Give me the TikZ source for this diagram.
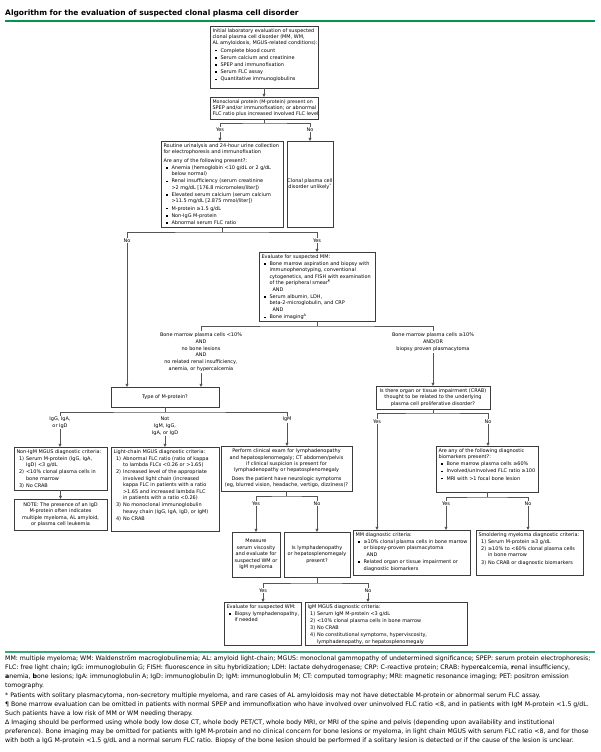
\documentclass[tikz,border=0pt]{standalone}
\usepackage{fontspec}
\setmainfont{DejaVu Sans}
\usetikzlibrary{arrows.meta,calc}
\definecolor{upgreen}{RGB}{0,150,80}
\definecolor{lngray}{RGB}{85,85,85}
\definecolor{bxgray}{RGB}{60,60,60}
\newcommand\xbu{\hspace*{2.6pt}\makebox[5.4pt][l]{\raisebox{0.8pt}{\rule{1.5pt}{1.5pt}}}}
\newcommand\xind{\hspace*{8pt}}
\newcommand\xnm[1]{\hspace*{2.6pt}\makebox[7pt][l]{#1}}
\newcommand\xnind{\hspace*{9.6pt}}
\newcommand\xbox[5]{\node[bx, minimum width={#4-#2}, minimum height={#5-#3}, anchor=north west] (#1) at (#2,#3) {};}
\newcommand\xtxt[2]{\node[txt, anchor=north west] (#1t) at ([shift={(2.5,2.4)}]#1.north west) {#2};}
\newcommand\xctxt[2]{\node[txt, align=center] (#1t) at (#1.center) {#2};}
\begin{document}
\begin{tikzpicture}[x=1pt,y=-1pt,
  bx/.style={draw=bxgray, line width=0.6pt, inner sep=0pt, outer sep=0pt},
  txt/.style={inner sep=0pt, outer sep=0pt, align=left, font=\fontsize{4.95}{6.4}\selectfont, text=black},
  lab/.style={inner sep=1pt, outer sep=0pt, align=center, font=\fontsize{4.95}{6.7}\selectfont, text=black},
  ln/.style={draw=lngray, line width=0.55pt},
  arr/.style={ln, -{Triangle[length=3.2pt,width=3pt]}}]
\useasboundingbox (0,0) rectangle (600,752);
\fill[white] (0,0) rectangle (600,752);

% title
\node[anchor=west, inner sep=0pt, font=\fontsize{7.5}{9}\selectfont\bfseries] (title) at (5,13) {Algorithm for the evaluation of suspected clonal plasma cell disorder};
\draw[upgreen, line width=2pt] (5,21) -- (595,21);

% boxes
\xbox{init}{210}{26}{318}{88}
\xtxt{init}{Initial laboratory evaluation of suspected\\clonal plasma cell disorder (MM, WM,\\AL amyloidosis, MGUS-related conditions):\\[0.8pt]\xbu Complete blood count\\[0.8pt]\xbu Serum calcium and creatinine\\[0.8pt]\xbu SPEP and immunofixation\\[0.8pt]\xbu Serum FLC assay\\[0.8pt]\xbu Quantitative immunoglobulins}

\xbox{mprot}{210}{97}{318}{119}
\xtxt{mprot}{\fontsize{4.75}{6.4}\selectfont Monoclonal protein (M-protein) present on\\SPEP and/or immunofixation; or abnormal\\FLC ratio plus increased involved FLC level}

\xbox{routine}{161}{141}{283}{227}
\xtxt{routine}{Routine urinalysis and 24-hour urine collection\\for electrophoresis and immunofixation\\[2.2pt]Are any of the following present?:\\[0.8pt]\xbu Anemia (hemoglobin <10 g/dL or 2 g/dL\\\xind below normal)\\[0.8pt]\xbu Renal insufficiency (serum creatinine\\\xind >2 mg/dL [176.8 micromoles/liter])\\[0.8pt]\xbu Elevated serum calcium (serum calcium\\\xind >11.5 mg/dL [2.875 mmol/liter])\\[0.8pt]\xbu M-protein ≥1.5 g/dL\\[0.8pt]\xbu Non-IgG M-protein\\[0.8pt]\xbu Abnormal serum FLC ratio}

\xbox{unlikely}{287}{141}{333}{227}
\xctxt{unlikely}{Clonal plasma cell\\disorder unlikely\textsuperscript{*}}

\xbox{evalmm}{259}{252}{375}{321}
\xtxt{evalmm}{Evaluate for suspected MM:\\[0.8pt]\xbu Bone marrow aspiration and biopsy with\\\xind immunophenotyping, conventional\\\xind cytogenetics, and FISH with examination\\\xind of the peripheral smear\textsuperscript{¶}\\[0.6pt]\xind\hspace*{3pt}AND\\[0.6pt]\xbu Serum albumin, LDH,\\\xind beta-2-microglobulin, and CRP\\[0.6pt]\xind\hspace*{3pt}AND\\[0.6pt]\xbu Bone imaging\textsuperscript{Δ}}

\xbox{typ}{111}{387}{219}{407}
\xctxt{typ}{Type of M-protein?}

\xbox{nonigm}{14}{447}{107}{490}
\xtxt{nonigm}{Non-IgM MGUS diagnostic criteria:\\[0.8pt]\xnm{1)}Serum M-protein (IgG, IgA,\\\xnind IgD) <3 g/dL\\[0.8pt]\xnm{2)}<10\% clonal plasma cells in\\\xnind bone marrow\\[0.8pt]\xnm{3)}No CRAB}

\xbox{note}{14}{499}{107}{530}
\xctxt{note}{NOTE: The presence of an IgD\\M-protein often indicates\\multiple myeloma, AL amyloid,\\or plasma cell leukemia}

\xbox{light}{111}{447}{219}{531}
\xtxt{light}{Light-chain MGUS diagnostic criteria:\\[0.8pt]\xnm{1)}Abnormal FLC ratio (ratio of kappa\\\xnind to lambda FLCs <0.26 or >1.65)\\[0.8pt]\xnm{2)}Increased level of the appropriate\\\xnind involved light chain (increased\\\xnind kappa FLC in patients with a ratio\\\xnind >1.65 and increased lambda FLC\\\xnind in patients with a ratio <0.26)\\[0.8pt]\xnm{3)}No monoclonal immunoglobulin\\\xnind heavy chain (IgG, IgA, IgD, or IgM)\\[0.8pt]\xnm{4)}No CRAB}

\xbox{igm}{221}{446}{352}{491}
\xctxt{igm}{Perform clinical exam for lymphadenopathy\\and hepatosplenomegaly; CT abdomen/pelvis\\if clinical suspicion is present for\\lymphadenopathy or hepatosplenomegaly\\[2.2pt]Does the patient have neurologic symptoms\\(eg, blurred vision, headache, vertigo, dizziness)?}

\xbox{measure}{232}{532}{280}{577}
\xctxt{measure}{Measure\\serum viscosity\\and evaluate for\\suspected WM or\\IgM myeloma}

\xbox{islymph}{284}{532}{350}{577}
\xctxt{islymph}{Is lymphadenopathy\\or hepatosplenomegaly\\present?}

\xbox{evalwm}{224}{602}{301}{645}
\xtxt{evalwm}{Evaluate for suspected WM:\\[0.8pt]\xbu Biopsy lymphadenopathy,\\\xind if needed}

\xbox{igmmgus}{305}{602}{467}{645}
\xtxt{igmmgus}{IgM MGUS diagnostic criteria:\\[0.8pt]\xnm{1)}Serum IgM M-protein <3 g/dL\\[0.8pt]\xnm{2)}<10\% clonal plasma cells in bone marrow\\[0.8pt]\xnm{3)}No CRAB\\[0.8pt]\xnm{4)}No constitutional symptoms, hyperviscosity,\\\xnind lymphadenopathy, or hepatosplenomegaly}

\xbox{crab}{376}{386}{490}{409}
\xctxt{crab}{Is there organ or tissue impairment (CRAB)\\thought to be related to the underlying\\plasma cell proliferative disorder?}

\xbox{biom}{436}{446}{538}{492}
\xtxt{biom}{Are any of the following diagnostic\\biomarkers present?:\\[0.8pt]\xbu Bone marrow plasma cells ≥60\%\\[0.8pt]\xbu Involved/uninvolved FLC ratio ≥100\\[0.8pt]\xbu MRI with >1 focal bone lesion}

\xbox{mmdiag}{353}{530}{470}{575}
\xtxt{mmdiag}{MM diagnostic criteria:\\[0.8pt]\xbu ≥10\% clonal plasma cells in bone marrow\\\xind or biopsy-proven plasmacytoma\\[0.6pt]\xind\hspace*{3pt}AND\\[0.6pt]\xbu Related organ or tissue impairment or\\\xind diagnostic biomarkers}

\xbox{smold}{476}{530}{583}{575}
\xtxt{smold}{Smoldering myeloma diagnostic criteria:\\[0.8pt]\xnm{1)}Serum M-protein ≥3 g/dL\\[0.8pt]\xnm{2)}≥10\% to <60\% clonal plasma cells\\\xnind in bone marrow\\[0.8pt]\xnm{3)}No CRAB or diagnostic biomarkers}

% connectors
\draw[arr] (init.south) -- (mprot.north);

% branch 1
\coordinate (b1) at ($(mprot.south)+(0,4)$);
\node[lab] (y1) at (220,129.5) {Yes};
\node[lab] (n1) at (310,129.5) {No};
\draw[ln] (mprot.south) -- (b1);
\draw[ln] (y1.north) |- (b1) -| (n1.north);
\draw[arr] (y1.south) -- (y1.south |- routine.north);
\draw[arr] (n1.south) -- (n1.south |- unlikely.north);

% branch 2
\coordinate (b2) at ($(routine.south)+(0,5)$);
\node[lab] (n2) at (127,240.5) {No};
\node[lab] (y2) at (317,240.5) {Yes};
\draw[ln] (routine.south) -- (b2);
\draw[ln] (n2.north) |- (b2) -| (y2.north);
\draw[arr] (n2.south) -- (n2.south |- typ.north);
\draw[arr] (y2.south) -- (y2.south |- evalmm.north);

% branch 3
\coordinate (b3) at ($(evalmm.south)+(0,5)$);
\node[lab, anchor=north, inner sep=0pt] (l3) at (201,333) {Bone marrow plasma cells <10\%\\AND\\no bone lesions\\AND\\no related renal insufficiency,\\anemia, or hypercalcemia};
\node[lab, anchor=north, inner sep=0pt] (r3) at (433,333) {Bone marrow plasma cells ≥10\%\\AND/OR\\biopsy proven plasmacytoma};
\draw[ln] (evalmm.south) -- (b3);
\draw[ln] ([yshift=2pt]l3.north) |- (b3) -| ([yshift=2pt]r3.north);
\draw[arr] ([yshift=-2pt]l3.south) -- (l3.south |- typ.north);
\draw[arr] ([yshift=-2pt]r3.south) -- (r3.south |- crab.north);

% branch 4
\coordinate (b4) at ($(typ.south)+(0,5)$);
\node[lab, anchor=north] (l4) at (60,416) {IgG, IgA,\\or IgD};
\node[lab, anchor=north] (m4) at (165,416) {Not\\IgM, IgG,\\IgA, or IgD};
\node[lab, anchor=north] (r4) at (287,416) {IgM};
\draw[ln] (typ.south) -- (b4);
\draw[ln] (l4.north) |- (b4) -| (r4.north);
\draw[arr] (l4.south) -- (l4.south |- nonigm.north);
\draw[arr] (m4.south) -- (m4.south |- light.north);
\draw[arr] (r4.south) -- (r4.south |- igm.north);

\draw[arr] (nonigm.south) -- (nonigm.south |- note.north);

% branch 5
\coordinate (b5) at ($(igm.south)+(0,5)$);
\node[lab] (y5) at (256,503.5) {Yes};
\node[lab] (n5) at (317,503.5) {No};
\draw[ln] (igm.south) -- (b5);
\draw[ln] (y5.north) |- (b5) -| (n5.north);
\draw[arr] (y5.south) -- (y5.south |- measure.north);
\draw[arr] (n5.south) -- (n5.south |- islymph.north);

% branch 6
\coordinate (b6) at ($(islymph.south)+(0,6)$);
\node[lab] (y6) at (263,590.5) {Yes};
\node[lab] (n6) at (368,590.5) {No};
\draw[ln] (islymph.south) -- (b6);
\draw[ln] (y6.north) |- (b6) -| (n6.north);
\draw[arr] (y6.south) -- (y6.south |- evalwm.north);
\draw[arr] (n6.south) -- (n6.south |- igmmgus.north);

% branch 7
\coordinate (b7) at ($(crab.south)+(0,4)$);
\node[lab] (y7) at (377,421.5) {Yes};
\node[lab] (n7) at (488,421.5) {No};
\draw[ln] (crab.south) -- (b7);
\draw[ln] (y7.north) |- (b7) -| (n7.north);
\draw[arr] (y7.south) -- (y7.south |- mmdiag.north);
\draw[arr] (n7.south) -- (n7.south |- biom.north);

% branch 8
\coordinate (b8) at ($(biom.south)+(0,5)$);
\node[lab] (y8) at (446,503.5) {Yes};
\node[lab] (n8) at (528,503.5) {No};
\draw[ln] (biom.south) -- (b8);
\draw[ln] (y8.north) |- (b8) -| (n8.north);
\draw[arr] (y8.south) -- (y8.south |- mmdiag.north);
\draw[arr] (n8.south) -- (n8.south |- smold.north);

% footnotes
\draw[upgreen!80, line width=1.4pt] (5,652) -- (595,652);
\node[anchor=north west, inner sep=0pt, align=left, font=\fontsize{6.2}{9.15}\selectfont] (fn) at (5,655.5) {MM: multiple myeloma; WM: Waldenström macroglobulinemia; AL: amyloid light-chain; MGUS: monoclonal gammopathy of undetermined significance; SPEP: serum protein electrophoresis;\\FLC: free light chain; IgG: immunoglobulin G; FISH: fluorescence in situ hybridization; LDH: lactate dehydrogenase; CRP: C-reactive protein; CRAB: hyper\textbf{c}alcemia, \textbf{r}enal insufficiency,\\\textbf{a}nemia, \textbf{b}one lesions; IgA: immunoglobulin A; IgD: immunoglobulin D; IgM: immunoglobulin M; CT: computed tomography; MRI: magnetic resonance imaging; PET: positron emission\\tomography.\\* Patients with solitary plasmacytoma, non-secretory multiple myeloma, and rare cases of AL amyloidosis may not have detectable M-protein or abnormal serum FLC assay.\\¶ Bone marrow evaluation can be omitted in patients with normal SPEP and immunofixation who have involved over uninvolved FLC ratio <8, and in patients with IgM M-protein <1.5 g/dL.\\Such patients have a low risk of MM or WM needing therapy.\\Δ Imaging should be performed using whole body low dose CT, whole body PET/CT, whole body MRI, or MRI of the spine and pelvis (depending upon availability and institutional\\preference). Bone imaging may be omitted for patients with IgM M-protein and no clinical concern for bone lesions or myeloma, in light chain MGUS with serum FLC ratio <8, and for those\\with both a IgG M-protein <1.5 g/dL and a normal serum FLC ratio. Biopsy of the bone lesion should be performed if a solitary lesion is detected or if the cause of the lesion is unclear.};
\end{tikzpicture}
\end{document}
